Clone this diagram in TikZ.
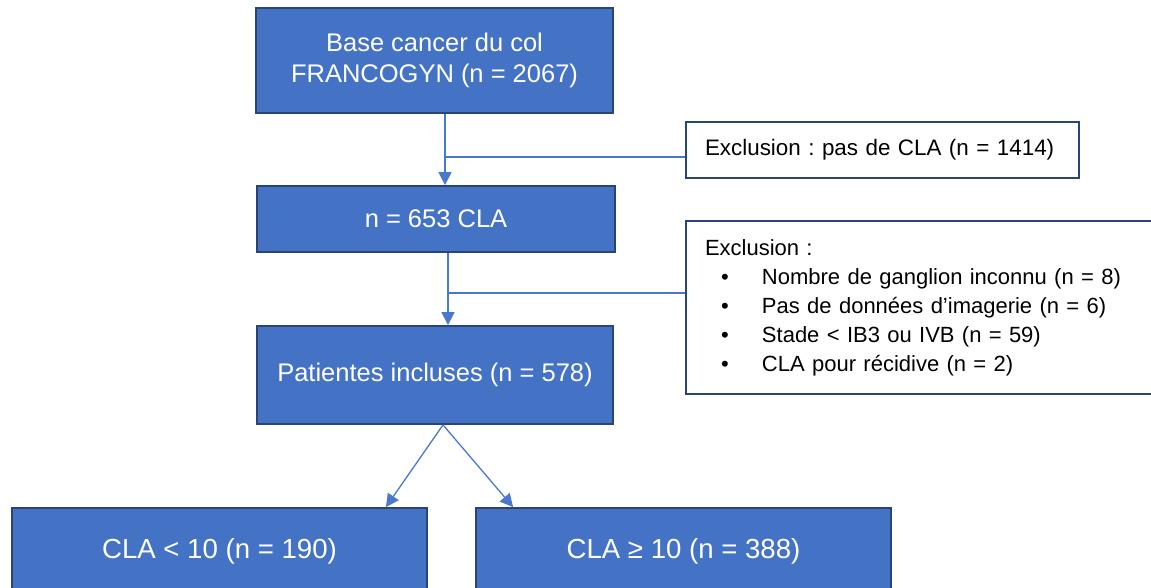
\documentclass[tikz,border=0pt]{standalone}
\usepackage{fontspec}
\setmainfont{Liberation Sans}
\usetikzlibrary{arrows.meta}
\definecolor{boxblue}{HTML}{4472C4}
\definecolor{boxedge}{HTML}{2A4474}
\definecolor{linkblue}{HTML}{4A78CC}
\frenchspacing
\begin{document}
\begin{tikzpicture}[x=1pt,y=-1pt,
    bluebox/.style={draw=boxedge,line width=1.8pt,fill=boxblue,text=white,
      inner sep=0pt,align=center,font=\fontsize{25.5pt}{31pt}\selectfont},
    exclbox/.style={draw=boxedge,line width=1.6pt,fill=white,inner sep=0pt,
      font=\fontsize{22pt}{29pt}\selectfont},
    link/.style={draw=linkblue,line width=1.3pt},
    arrow/.style={link,-{Triangle[length=13pt,width=13pt]}}]
        % page frame
        \clip (0,0) rectangle (1151,588);

        % main column
        \node[bluebox,minimum width=357pt,minimum height=105pt] (base) at (434.5,60.5)
            {Base cancer du col\\FRANCOGYN (n = 2067)};
        \node[bluebox,minimum width=358pt,minimum height=66pt] (cla) at (436,219)
            {n = 653 CLA};
        \node[bluebox,minimum width=356pt,minimum height=98pt] (pat) at (435,375)
            {Patientes incluses (n = 578)};

        % bottom groups
        \node[bluebox,minimum width=415pt,minimum height=86pt,
            font=\fontsize{27.6pt}{32pt}\selectfont] (low) at (219.5,551)
            {CLA < 10 (n = 190)};
        \node[bluebox,minimum width=415pt,minimum height=86pt,
            font=\fontsize{27.6pt}{32pt}\selectfont] (high) at (683.5,551)
            {CLA ≥ 10 (n = 388)};

        % exclusion boxes
        \node[exclbox,minimum width=393pt,minimum height=56pt,text width=355pt,
            align=left,inner xsep=19pt,font=\fontsize{22.4pt}{29pt}\selectfont] (excl1) at (882.5,150)
            {\mbox{Exclusion : pas de CLA (n = 1414)}};
        \node[exclbox,minimum width=480pt,minimum height=173pt,text width=442pt,
            align=left,inner xsep=19pt] (excl2) at (926,307.5)
            {Exclusion :\\
             \hspace*{16pt}\makebox[41pt][l]{\textbullet}Nombre de ganglion inconnu (n = 8)\\
             \hspace*{16pt}\makebox[41pt][l]{\textbullet}Pas de données d’imagerie (n = 6)\\
             \hspace*{16pt}\makebox[41pt][l]{\textbullet}Stade < IB3 ou IVB (n = 59)\\
             \hspace*{16pt}\makebox[41pt][l]{\textbullet}CLA pour récidive (n = 2)};

        % first step
        \coordinate (t1) at ([xshift=10.5pt]base.south);
        \draw[arrow] (t1) -- (t1 |- cla.north);
        \coordinate (j1) at (445,157);
        \draw[link] (j1) -- (j1 -| excl1.west);

        % second step
        \coordinate (t2) at ([xshift=12pt]cla.south);
        \draw[arrow] (t2) -- (t2 |- pat.north);
        \coordinate (j2) at (448,293);
        \draw[link] (j2) -- (j2 -| excl2.west);

        % split
        \coordinate (t3) at ([xshift=8pt]pat.south);
        \draw[arrow] (t3) -- ([xshift=-42pt]low.north east);
        \draw[arrow] (t3) -- ([xshift=38pt]high.north west);
    \end{tikzpicture}
\end{document}
